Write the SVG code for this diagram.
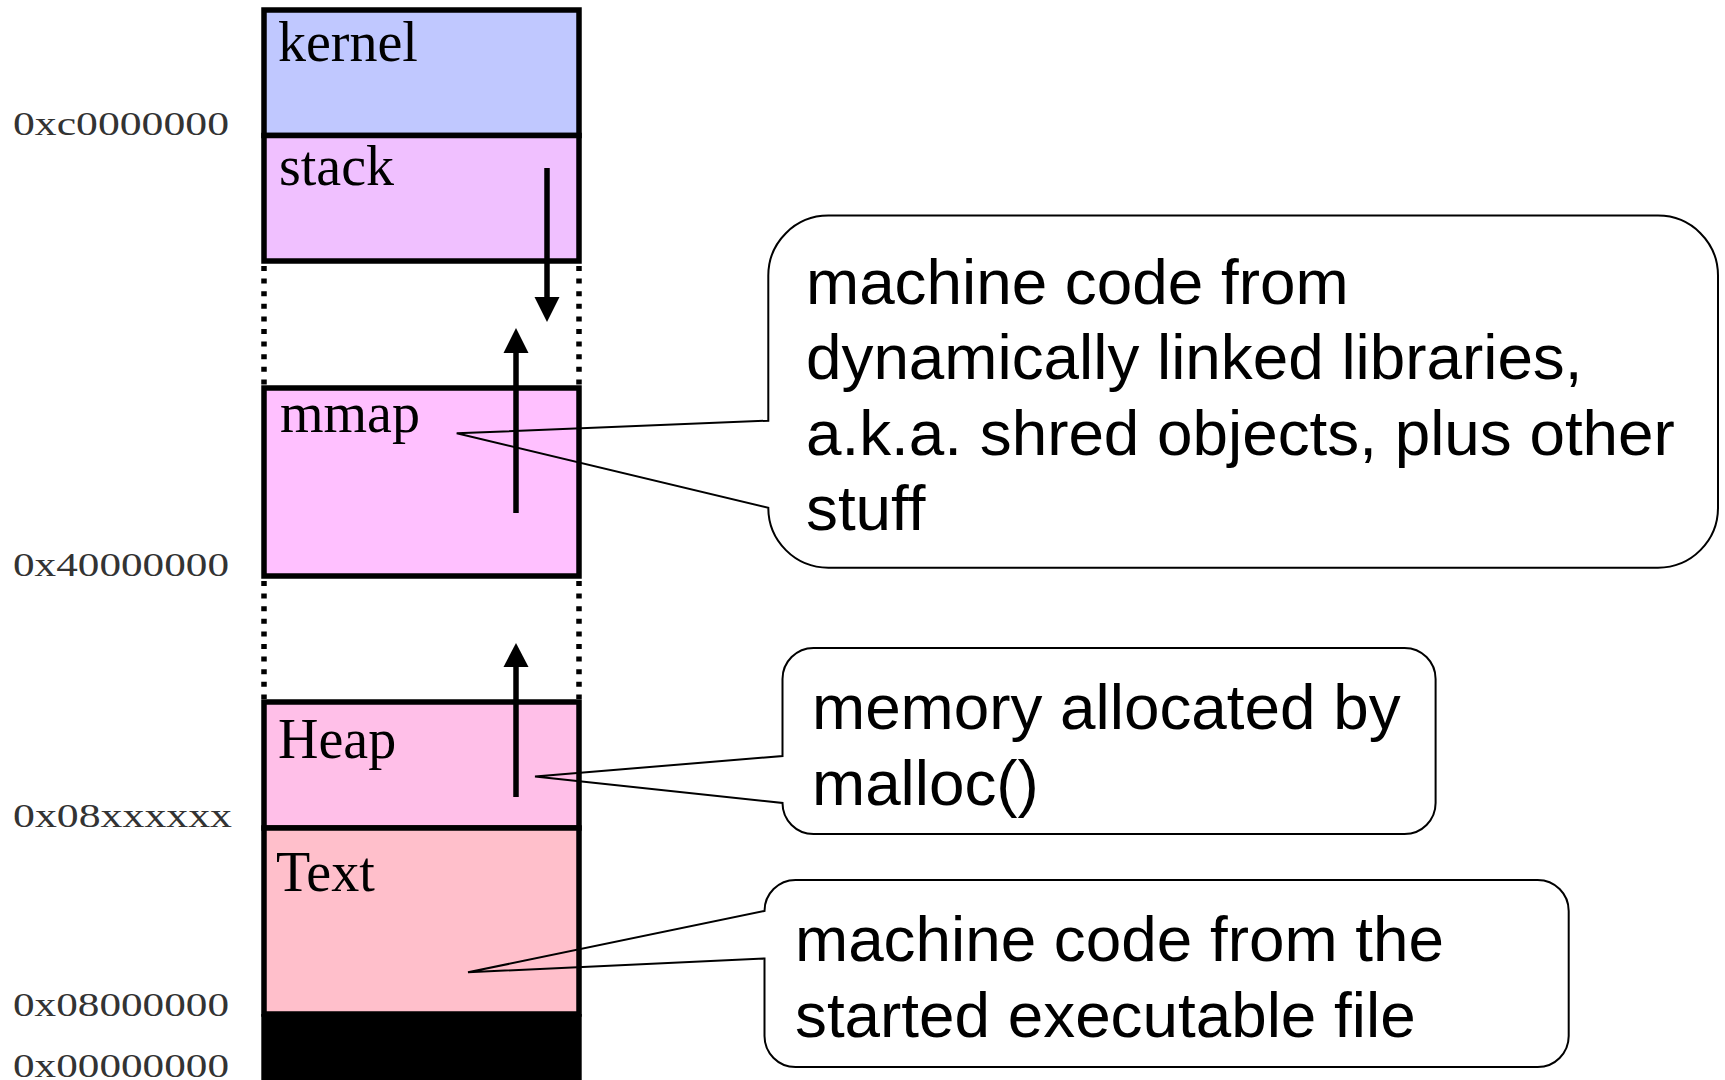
<svg xmlns="http://www.w3.org/2000/svg" width="1725" height="1080" viewBox="0 0 1725 1080">
<style>
.seg{stroke:#000;stroke-width:5.5}
.lbl{font-family:"Liberation Serif","Times New Roman",serif;font-size:56px;fill:#000}
.addr{font-family:"Liberation Serif","Times New Roman",serif;font-size:34px;fill:#333}
.dot{stroke:#000;stroke-width:5.5;stroke-dasharray:5 7.6;fill:none}
.arr{stroke:#000;stroke-width:5.5;fill:none}
.call{fill:none;stroke:#000;stroke-width:2;stroke-linejoin:miter}
.ct{font-family:"Liberation Sans",Arial,sans-serif;font-size:63.8px;fill:#000}
</style>
<rect x="0" y="0" width="1725" height="1080" fill="#fff"/>

<g id="addresses">
<text class="addr" x="13" y="135" textLength="216" lengthAdjust="spacingAndGlyphs">0xc0000000</text>
<text class="addr" x="13" y="576" textLength="216" lengthAdjust="spacingAndGlyphs">0x40000000</text>
<text class="addr" x="13" y="827" textLength="219" lengthAdjust="spacingAndGlyphs">0x08xxxxxx</text>
<text class="addr" x="13" y="1016" textLength="216" lengthAdjust="spacingAndGlyphs">0x08000000</text>
<text class="addr" x="13" y="1077" textLength="216" lengthAdjust="spacingAndGlyphs">0x00000000</text>
</g>

<g id="kernel">
<rect class="seg" x="264" y="10" width="315" height="125.5" fill="#C0C8FF"/>
<text class="lbl" x="278" y="61">kernel</text>
</g>
<g id="stack">
<rect class="seg" x="264" y="135.5" width="315" height="125.5" fill="#F0C0FF"/>
<text class="lbl" x="279" y="185">stack</text>
</g>
<g id="gap1">
<line class="dot" x1="264" y1="266" x2="264" y2="385"/>
<line class="dot" x1="579" y1="266" x2="579" y2="385"/>
</g>
<g id="mmap">
<rect class="seg" x="264" y="388" width="315" height="188" fill="#FFC0FF"/>
<text class="lbl" x="280" y="432">mmap</text>
</g>
<g id="gap2">
<line class="dot" x1="264" y1="581" x2="264" y2="699"/>
<line class="dot" x1="579" y1="581" x2="579" y2="699"/>
</g>
<g id="heap">
<rect class="seg" x="264" y="702" width="315" height="126" fill="#FFBFE8"/>
<text class="lbl" x="278" y="758">Heap</text>
</g>
<g id="text-seg">
<rect class="seg" x="264" y="828" width="315" height="186" fill="#FFBFCB"/>
<text class="lbl" x="276" y="891">Text</text>
</g>
<g id="null-seg">
<rect x="261.3" y="1014" width="320.4" height="66" fill="#000"/>
</g>

<g id="arrows">
<line class="arr" x1="547" y1="168" x2="547" y2="299"/>
<polygon points="534.5,297 559.5,297 547,322" fill="#000"/>
<line class="arr" x1="516" y1="513" x2="516" y2="351"/>
<polygon points="503.5,353 528.5,353 516,328" fill="#000"/>
<line class="arr" x1="516" y1="797" x2="516" y2="665"/>
<polygon points="503.5,667 528.5,667 516,643" fill="#000"/>
</g>

<g id="callout-mmap">
<path class="call" d="M768.3,420.7 V275.6 A60,60 0 0 1 828.3,215.6 H1658 A60,60 0 0 1 1718,275.6 V507.7 A60,60 0 0 1 1658,567.7 H828.3 A60,60 0 0 1 768.3,507.7 L456.7,433.3 Z"/>
<text class="ct" x="806" y="303.5">machine code from</text>
<text class="ct" x="806" y="379">dynamically linked libraries,</text>
<text class="ct" x="806" y="454.5">a.k.a. shred objects, plus other</text>
<text class="ct" x="806" y="530">stuff</text>
</g>

<g id="callout-heap">
<path class="call" d="M782.5,756 V679 A31,31 0 0 1 813.5,648 H1404.6 A31,31 0 0 1 1435.6,679 V803 A31,31 0 0 1 1404.6,834 H813.5 A31,31 0 0 1 782.5,803 L535,776.5 Z"/>
<text class="ct" x="812" y="729">memory allocated by</text>
<text class="ct" x="812" y="805">malloc()</text>
</g>

<g id="callout-text">
<path class="call" d="M764.5,911 A31,31 0 0 1 795.5,880 H1537.7 A31,31 0 0 1 1568.7,911 V1036 A31,31 0 0 1 1537.7,1067 H795.5 A31,31 0 0 1 764.5,1036 V958.5 L468,972.3 Z"/>
<text class="ct" x="795" y="961">machine code from the</text>
<text class="ct" x="795" y="1037">started executable file</text>
</g>
</svg>
